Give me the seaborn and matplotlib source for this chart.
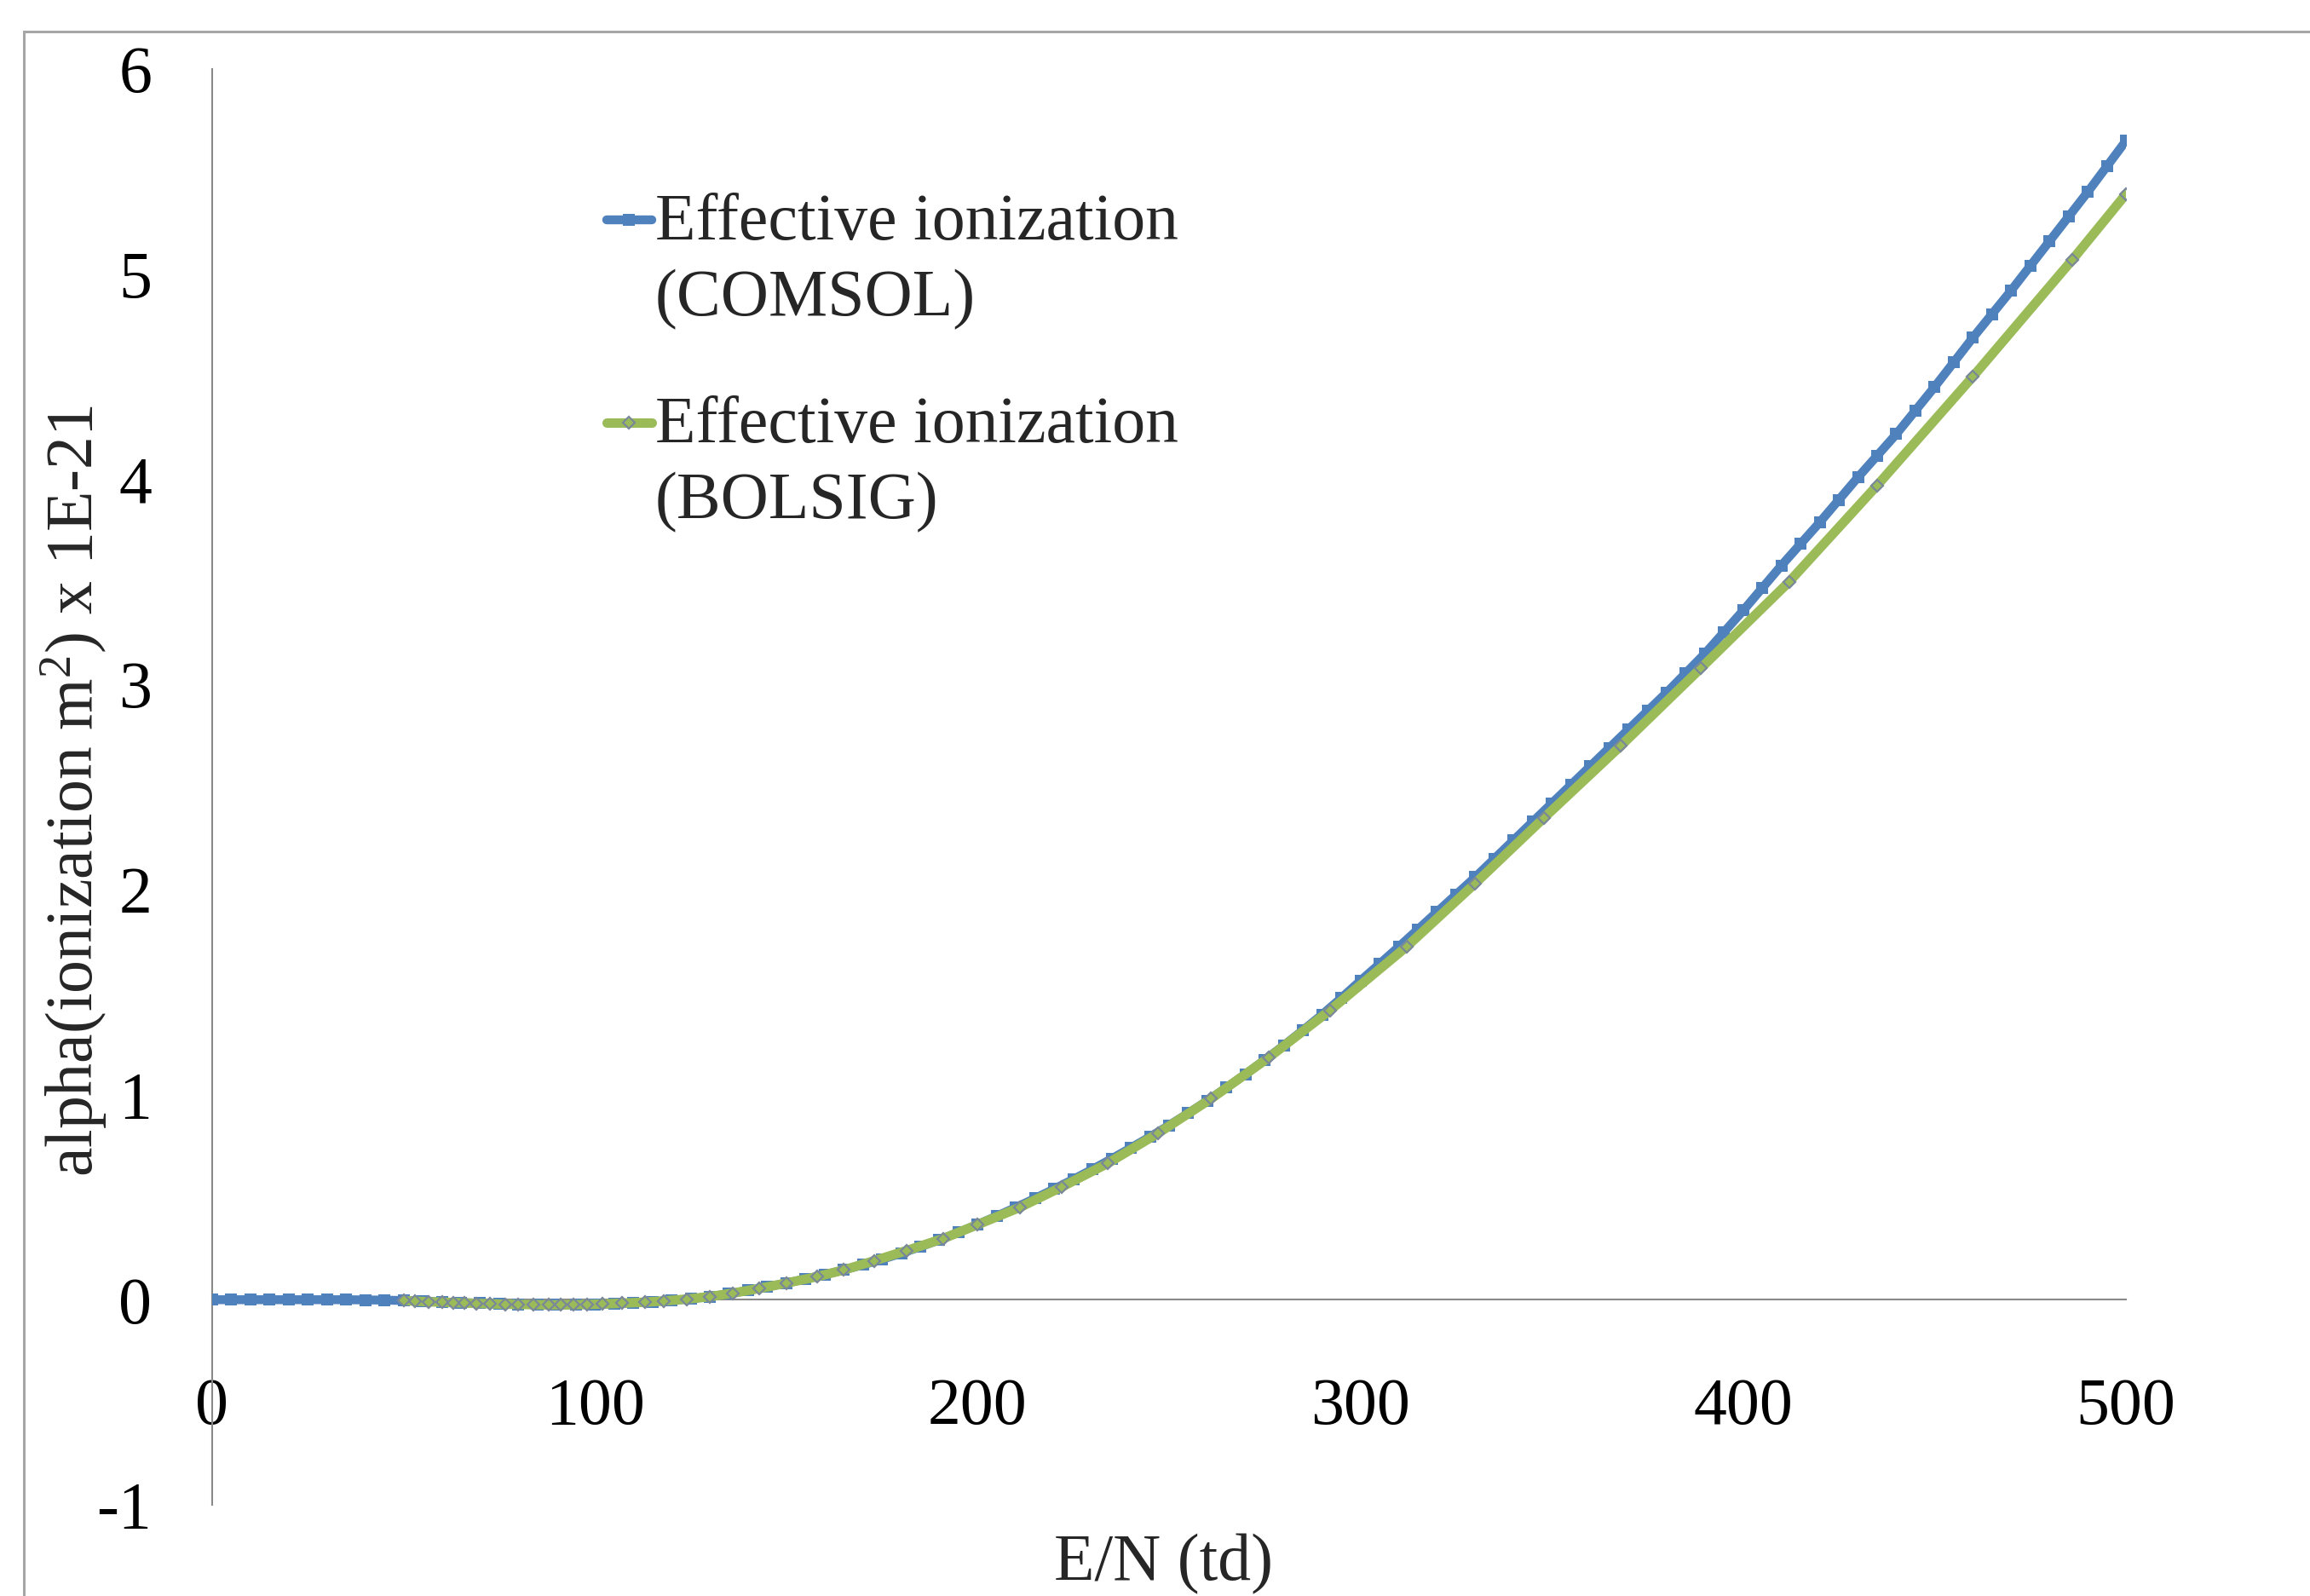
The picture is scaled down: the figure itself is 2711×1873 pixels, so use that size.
import matplotlib
matplotlib.use("Agg")
import matplotlib.pyplot as plt
import numpy as np
import seaborn as sns
from matplotlib.legend_handler import HandlerLine2D
from matplotlib.patches import Rectangle

# E/N (Td) grid of the COMSOL export, one point every 5 Td
EN_COMSOL = [
    0, 5, 10, 15, 20, 25, 30, 35, 40, 45,
    50, 55, 60, 65, 70, 75, 80, 85, 90, 95,
    100, 105, 110, 115, 120, 125, 130, 135, 140, 145,
    150, 155, 160, 165, 170, 175, 180, 185, 190, 195,
    200, 205, 210, 215, 220, 225, 230, 235, 240, 245,
    250, 255, 260, 265, 270, 275, 280, 285, 290, 295,
    300, 305, 310, 315, 320, 325, 330, 335, 340, 345,
    350, 355, 360, 365, 370, 375, 380, 385, 390, 395,
    400, 405, 410, 415, 420, 425, 430, 435, 440, 445,
    450, 455, 460, 465, 470, 475, 480, 485, 490, 495,
    500,
]
ALPHA_COMSOL = [
    0.000, 0.000, 0.000, 0.000, 0.000, 0.000, 0.000, 0.000, -0.001, -0.002,
    -0.004, -0.007, -0.011, -0.014, -0.017, -0.020, -0.022, -0.024, -0.025, -0.025,
    -0.023, -0.020, -0.016, -0.010, -0.004, 0.004, 0.015, 0.029, 0.045, 0.062,
    0.081, 0.101, 0.122, 0.145, 0.170, 0.197, 0.226, 0.258, 0.292, 0.328,
    0.367, 0.408, 0.450, 0.494, 0.540, 0.587, 0.636, 0.687, 0.740, 0.794,
    0.850, 0.909, 0.970, 1.034, 1.100, 1.169, 1.240, 1.314, 1.390, 1.471,
    1.555, 1.637, 1.720, 1.805, 1.890, 1.975, 2.060, 2.150, 2.240, 2.330,
    2.420, 2.510, 2.600, 2.690, 2.780, 2.870, 2.960, 3.055, 3.150, 3.255,
    3.360, 3.470, 3.580, 3.685, 3.790, 3.900, 4.010, 4.115, 4.220, 4.335,
    4.450, 4.570, 4.690, 4.805, 4.920, 5.040, 5.160, 5.280, 5.400, 5.525,
    5.650,
]

# BOLSIG points (uneven grid, starts at 50 Td)
EN_BOLSIG = [
    50, 53, 56.5, 60, 63, 66, 69, 72.5, 76.5, 80,
    84, 88, 91, 94.5, 98, 102, 107, 113, 118, 124,
    130, 136, 143, 150, 158, 165, 173, 181.5, 191, 200,
    211, 222, 234, 247, 261, 276, 292, 312, 330, 348,
    368, 389, 412, 435, 460, 486, 500,
]
ALPHA_BOLSIG = [
    -0.004, -0.007, -0.010, -0.012, -0.014, -0.016, -0.018, -0.020, -0.022, -0.023,
    -0.024, -0.025, -0.025, -0.024, -0.023, -0.021, -0.017, -0.012, -0.006, 0.003,
    0.015, 0.032, 0.055, 0.081, 0.112, 0.145, 0.190, 0.240, 0.298, 0.366,
    0.450, 0.550, 0.665, 0.810, 0.980, 1.180, 1.410, 1.720, 2.030, 2.350,
    2.700, 3.080, 3.500, 3.970, 4.500, 5.070, 5.390,
]

LABEL_COMSOL = "Effective ionization\n(COMSOL)"
LABEL_BOLSIG = "Effective ionization\n(BOLSIG)"
X_TICKS = [0, 100, 200, 300, 400, 500]
Y_TICKS = [-1, 0, 1, 2, 3, 4, 5, 6]

BLUE = "#4F81BD"
GREEN = "#9BBB59"
AXIS_GREY = "#898989"
FONT_SIZE = 56


class FirstLineHandler(HandlerLine2D):
    """Legend handle raised to sit beside the first line of a two-line label."""

    def __init__(self, shift, **kwargs):
        super().__init__(**kwargs)
        self.shift = shift

    def create_artists(self, legend, orig_handle, xdescent, ydescent, width, height, fontsize, trans):
        artists = super().create_artists(legend, orig_handle, xdescent, ydescent, width, height, fontsize, trans)
        for artist in artists:
            artist.set_ydata(np.asarray(artist.get_ydata()) + self.shift)
        return artists


sns.set_style("white")
plt.rcParams["font.family"] = ["Liberation Serif", "DejaVu Serif"]
plt.rcParams["mathtext.fontset"] = "custom"
plt.rcParams["mathtext.rm"] = "Liberation Serif"
plt.rcParams["mathtext.default"] = "rm"

fig = plt.figure(figsize=(27.11, 18.73), dpi=100)
ax = fig.add_axes([249 / 2711, 1 - 1766 / 1873, 2246 / 2711, 1685 / 1873])

sns.lineplot(
    x=EN_COMSOL, y=ALPHA_COMSOL, ax=ax, sort=False, estimator=None,
    color=BLUE, linewidth=7.5, marker="s", markersize=10,
    markerfacecolor=BLUE, markeredgecolor=BLUE, markeredgewidth=0, zorder=3,
)
sns.lineplot(
    x=EN_BOLSIG, y=ALPHA_BOLSIG, ax=ax, sort=False, estimator=None,
    color=GREEN, linewidth=8, marker="D", markersize=7.5,
    markerfacecolor="none", markeredgecolor="#7A8899", markeredgewidth=1.6, zorder=4,
)

ax.set_xlim(0, 500)
ax.set_ylim(-1, 6)
ax.set_xticks(X_TICKS)
ax.set_yticks(Y_TICKS)
ax.set_xticklabels([str(v) for v in X_TICKS])
ax.set_yticklabels([str(v) for v in Y_TICKS])

for side in ("top", "right"):
    ax.spines[side].set_visible(False)
ax.spines["bottom"].set_position(("data", 0))
for side in ("left", "bottom"):
    ax.spines[side].set_color(AXIS_GREY)
    ax.spines[side].set_linewidth(1.5)

ax.tick_params(axis="x", direction="out", length=18, width=1.5, color=AXIS_GREY,
               pad=48, labelsize=FONT_SIZE, labelcolor="black")
ax.tick_params(axis="y", direction="out", length=18, width=1.5, color=AXIS_GREY,
               pad=33, labelsize=FONT_SIZE, labelcolor="black")

ax.set_xlabel("E/N (td)", fontsize=FONT_SIZE)
ax.xaxis.set_label_coords(0.497, -0.02)
ax.set_ylabel("alpha(ionization m$^{2}$) x 1E-21", fontsize=FONT_SIZE)
ax.yaxis.set_label_coords(-0.054, 0.497)

line_comsol, line_bolsig = ax.lines[0], ax.lines[1]
leg = ax.legend(
    [line_comsol, line_bolsig], [LABEL_COMSOL, LABEL_BOLSIG],
    handler_map={line_comsol: FirstLineHandler(35), line_bolsig: FirstLineHandler(35)},
    loc="upper left", bbox_to_anchor=(712 / 2711, 0.879), bbox_transform=fig.transFigure,
    frameon=False, fontsize=FONT_SIZE, numpoints=1, handlelength=0.68, handletextpad=0.05,
    borderpad=0, borderaxespad=0, labelspacing=1.0,
)
for text in leg.get_texts():
    text.set_linespacing(1.32)

# outer chart-area border (only top and left edges are inside the picture)
fig.add_artist(Rectangle((28 / 2711, -0.5), 2, 0.5 + 1 - 37 / 1873, transform=fig.transFigure,
                         fill=False, edgecolor="#A6A6A6", linewidth=2.2))

fig.savefig("out.png", dpi=100, facecolor="white")
